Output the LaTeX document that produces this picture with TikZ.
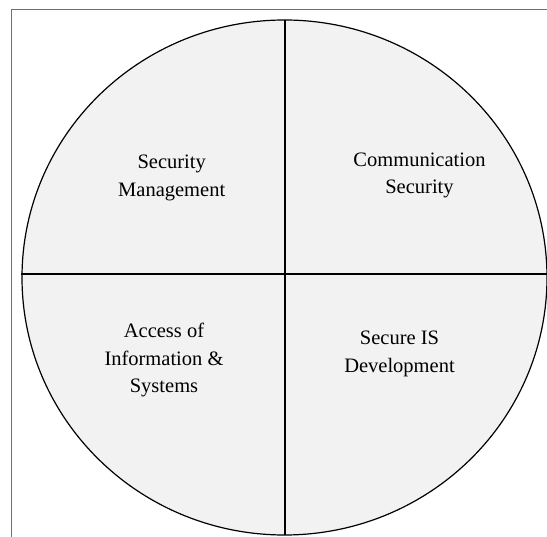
\documentclass[tikz,border=0pt]{standalone}
\usepackage{fontspec}
\setmainfont{Liberation Serif}
\definecolor{quadfill}{HTML}{F2F2F2}
\definecolor{framegray}{HTML}{6E6E6E}
\tikzset{
  frameline/.style={draw=framegray, line width=1pt},
  disc/.style={draw=black, fill=quadfill, line width=1.2pt},
  divider/.style={draw=black, line width=2pt},
  label/.style={align=center, inner sep=0pt, font=\fontsize{20.5}{27.5}\selectfont, text=black}
}
\begin{document}
\begin{tikzpicture}[x=1pt,y=-1pt]
\useasboundingbox (0,0) rectangle (547,537);
\fill[white] (0,0) rectangle (547,537);
% frame
\coordinate (fc) at (11.5,9.5);
\coordinate (ft) at (547,9.5);
\coordinate (fb) at (11.5,537);
\draw[frameline] (ft) -- (fc) -- (fb);
% disc
\coordinate (c) at (284.5,277.5);
\path[disc] (c) ellipse [x radius=262.5, y radius=257.5];
% dividers
\coordinate (vt) at (285,20);
\coordinate (vb) at (285,535);
\coordinate (hl) at (21,274);
\coordinate (hr) at (547,274);
\draw[divider] (vt) -- (vb);
\draw[divider] (hl) -- (hr);
% labels
\node[label] (sm) at (171.7,178) {Security\\Management};
\node[label] (cs) at (419.5,175.6) {Communication\\Security};
\node[label] (ai) at (164,360) {Access of\\Information \&\\Systems};
\node[label] (sd) at (399.5,354) {Secure IS\\Development};
\end{tikzpicture}
\end{document}
